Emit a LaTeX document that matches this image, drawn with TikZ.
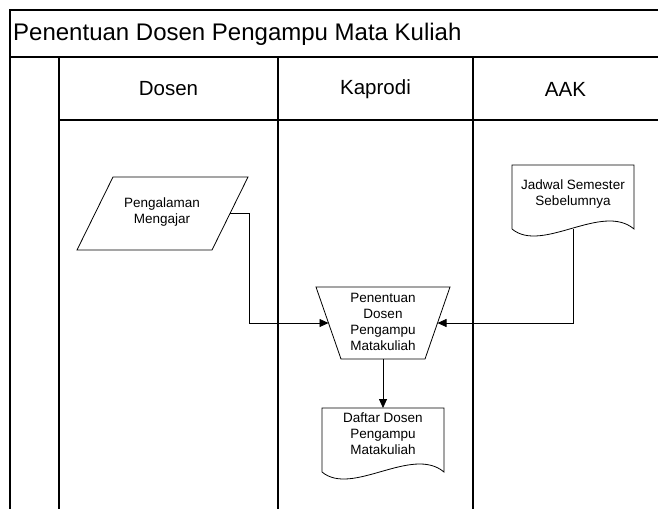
\documentclass[tikz,border=0pt]{standalone}
\usepackage{fontspec}
\setmainfont{Liberation Sans}
\usetikzlibrary{arrows.meta,calc}

\tikzset{
  frame/.style={line width=1.1pt, black},
  outline/.style={line width=0.8pt, black},
  flow/.style={line width=0.8pt, black, -{Triangle[length=9pt,width=8pt]}},
  box/.style={inner sep=0pt, outer sep=0pt, minimum width=#1},
  label/.style={font=\fontsize{13.5}{16}\selectfont, align=center, inner sep=0pt},
  lanehead/.style={font=\fontsize{20.5}{24}\selectfont, inner sep=0pt},
}

\begin{document}
\begin{tikzpicture}[x=1pt, y=-1pt]
\useasboundingbox (0,0) rectangle (658,509);

% swimlane frame
\draw[frame] (658,10) -- (10,10) -- (10,509);
\draw[frame] (10,57) -- (658,57);
\draw[frame] (59,57) -- (59,509);
\draw[frame] (59,120) -- (658,120);
\draw[frame] (278,57) -- (278,509);
\draw[frame] (473,57) -- (473,509);

\node[anchor=west, font=\fontsize{24}{28}\selectfont, inner sep=0pt] (title) at (13,34) {Penentuan Dosen Pengampu Mata Kuliah};
\node[lanehead] (hDosen) at (168.5,89) {Dosen};
\node[lanehead] (hKaprodi) at (375.5,89) {Kaprodi};
\node[lanehead] (hAAK) at (565.5,89) {AAK};

% input: Pengalaman Mengajar (parallelogram)
\node[box=171pt, minimum height=73pt] (pm) at (162.5,213.5) {};
\draw[outline] ($(pm.north west)+(36,0)$) -- (pm.north east)
  -- ($(pm.south east)+(-36,0)$) -- (pm.south west) -- cycle;
\node[label] (pmText) at (162,212) {Pengalaman\\Mengajar};
\coordinate (pmOut) at ($(pm.east)+(-18,0)$);

% manual operation: Penentuan Dosen Pengampu Matakuliah (trapezoid)
\node[box=134pt, minimum height=72pt] (op) at (383,323) {};
\draw[outline] (op.north west) -- (op.north east)
  -- ($(op.south east)+(-25,0)$) -- ($(op.south west)+(25,0)$) -- cycle;
\node[label] (opText) at (383,322) {Penentuan\\Dosen\\Pengampu\\Matakuliah};
\coordinate (opIn) at ($(op.west)+(12.5,0)$);
\coordinate (opInR) at ($(op.east)+(-12.5,0)$);

% document: Jadwal Semester Sebelumnya
\node[box=122pt, minimum height=64pt] (jd) at (573,197) {};
\draw[outline] (jd.south west) -- (jd.north west) -- (jd.north east) -- (jd.south east)
  .. controls +(-32,-27) and +(30,25) .. (jd.south west);
\node[label] (jdText) at (573,194) {Jadwal Semester\\Sebelumnya};

% document: Daftar Dosen Pengampu Matakuliah
\node[box=122pt, minimum height=64pt] (dd) at (383,440) {};
\draw[outline] (dd.south west) -- (dd.north west) -- (dd.north east) -- (dd.south east)
  .. controls +(-32,-27) and +(30,25) .. (dd.south west);
\node[label] (ddText) at (383,434) {Daftar Dosen\\Pengampu\\Matakuliah};

% connectors
\draw[flow] (pmOut) -| (249,323) -- (opIn);
\draw[flow] (jd.south) |- (opInR);
\draw[flow] (op.south) -- (dd.north);

\end{tikzpicture}
\end{document}
